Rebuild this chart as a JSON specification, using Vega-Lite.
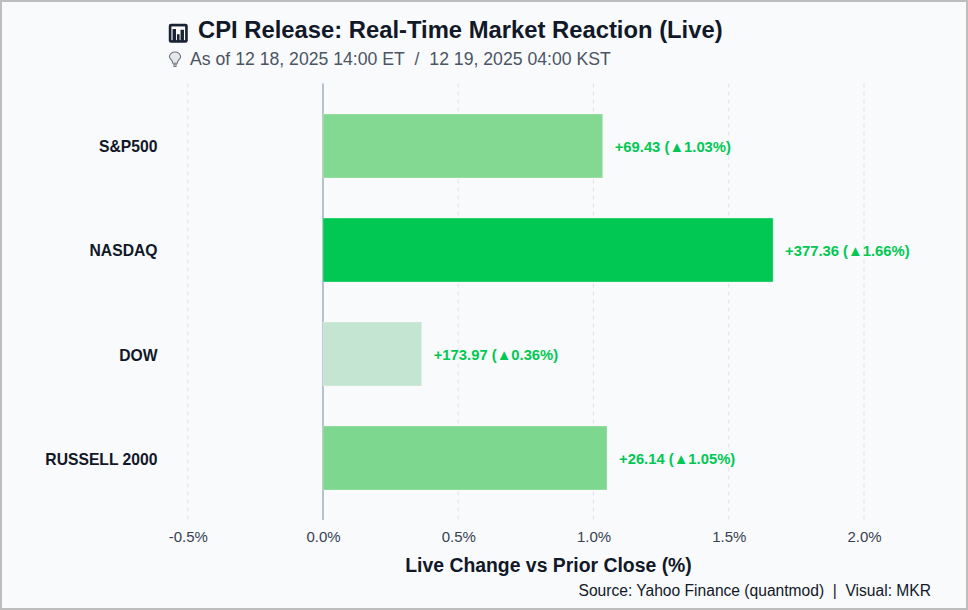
{
"$schema":"https://vega.github.io/schema/vega-lite/v6.json",
"width":968,"height":610,"autosize":"none","padding":0,
"background":"#f9fafc",
"title":{"text":"CPI Release: Real-Time Market Reaction (Live)","anchor":"start","frame":"group","dx":198,"dy":62,"offset":0,"baseline":"alphabetic","font":"Liberation Sans","fontSize":23.8,"fontWeight":"bold","color":"#111827"},
"config":{"view":{"stroke":"#bdbdbd","strokeWidth":4},"font":"Liberation Sans"},
"datasets":{
"bars":[
{"index_name":"S&P500","rank":1,"pct":1.034,"group":"S&P500","label":"+69.43 (▲1.03%)"},
{"index_name":"NASDAQ","rank":2,"pct":1.664,"group":"NASDAQ","label":"+377.36 (▲1.66%)"},
{"index_name":"DOW","rank":3,"pct":0.365,"group":"DOW","label":"+173.97 (▲0.36%)"},
{"index_name":"RUSSELL 2000","rank":4,"pct":1.05,"group":"RUSSELL 2000","label":"+26.14 (▲1.05%)"}
],
"grid":[{"tick":-0.5},{"tick":0.5},{"tick":1.0},{"tick":1.5},{"tick":2.0}]
},
"encoding":{
"x":{"type":"quantitative","scale":{"domain":[-1.194,2.3845],"nice":false,"zero":false},
 "axis":{"values":[-0.5,0,0.5,1,1.5,2],"labelExpr":"(datum.value<0?'-':'')+format(abs(datum.value),'.1f')+'%'","orient":"bottom","offset":-90,"grid":false,"ticks":false,"domain":false,"labelPadding":9,"labelFontSize":15,"labelColor":"#374151","labelFont":"Liberation Sans","title":"Live Change vs Prior Close (%)","titleFontSize":19.4,"titleFontWeight":"bold","titleColor":"#111827","titleFont":"Liberation Sans","titleX":548,"titleY":51,"titleAnchor":null,"titleBaseline":"alphabetic"}},
"y":{"type":"quantitative","scale":{"domain":[5.4615,-0.4038],"nice":false,"zero":false,"padding":0},
 "axis":{"values":[1,2,3,4],"labelExpr":"{'1':'S&P500','2':'NASDAQ','3':'DOW','4':'RUSSELL 2000'}[datum.value]","orient":"left","offset":-157,"grid":false,"ticks":false,"domain":false,"labelPadding":0,"labelOffset":1,"labelFontSize":15.7,"labelFontWeight":"bold","labelColor":"#111827","labelFont":"Liberation Sans","title":null}}
},
"layer":[
{"data":{"name":"grid"},"mark":{"type":"rule","color":"#dde2ec","strokeWidth":1,"strokeDash":[4,4]},
 "encoding":{"x":{"field":"tick","type":"quantitative"},"y":{"datum":0.399},"y2":{"datum":4.596}}},
{"data":{"values":[{"tick":0}]},"mark":{"type":"rule","color":"#a0aec0","strokeWidth":1.5},
 "encoding":{"x":{"field":"tick","type":"quantitative"},"y":{"datum":0.399},"y2":{"datum":4.596}}},
{"data":{"name":"bars"},"mark":{"type":"bar","orient":"horizontal","size":64,"stroke":"#ffffff","strokeWidth":0.5,"strokeOpacity":0.6},
 "encoding":{"x":{"field":"pct","type":"quantitative"},"x2":{"datum":0},"y":{"field":"rank","type":"quantitative"},
 "color":{"field":"group","type":"nominal","legend":null,"scale":{"domain":["S&P500","NASDAQ","DOW","RUSSELL 2000"],"range":["#83d892","#00c853","#c3e5d2","#7dd78e"]}}}},
{"data":{"name":"bars"},"mark":{"type":"text","align":"left","baseline":"middle","dx":12,"dy":2,"fontSize":14.8,"fontWeight":"bold","color":"#00c853","font":"Liberation Sans"},
 "encoding":{"x":{"field":"pct","type":"quantitative"},"y":{"field":"rank","type":"quantitative"},"text":{"field":"label"}}},
{"data":{"values":[{"t":"As of 12 18, 2025 14:00 ET\u00a0\u00a0/\u00a0\u00a012 19, 2025 04:00 KST"}]},"mark":{"type":"text","align":"left","baseline":"alphabetic","fontSize":17.65,"color":"#4b5563","font":"Liberation Sans"},
 "encoding":{"x":{"datum":-0.4915},"y":{"datum":0.221},"text":{"field":"t"}}},
{"data":{"values":[{"t":"Source: Yahoo Finance (quantmod)\u00a0\u00a0|\u00a0\u00a0Visual: MKR"}]},"mark":{"type":"text","align":"right","baseline":"alphabetic","fontSize":15.6,"color":"#111827","font":"Liberation Sans"},
 "encoding":{"x":{"datum":2.2477},"y":{"datum":5.327},"text":{"field":"t"}}},
{"data":{"values":[{"icon":"chart"}]},"mark":{"type":"point","filled":true,"color":"#1a2333","opacity":1,"size":1444,"shape":"M-0.5,-0.38 Q-0.5,-0.5 -0.38,-0.5 L0.38,-0.5 Q0.5,-0.5 0.5,-0.38 L0.5,0.38 Q0.5,0.5 0.38,0.5 L-0.38,0.5 Q-0.5,0.5 -0.5,0.38 Z"},
 "encoding":{"x":{"datum":-0.535},"y":{"datum":-0.0837}}},
{"data":{"values":[{"icon":"panel"}]},"mark":{"type":"point","filled":true,"color":"#ffffff","opacity":1,"size":1444,"shape":"M-0.36,-0.36 L0.36,-0.36 L0.36,0.36 L-0.36,0.36 Z"},
 "encoding":{"x":{"datum":-0.535},"y":{"datum":-0.0837}}},
{"data":{"values":[{"icon":"bars"}]},"mark":{"type":"point","filled":true,"color":"#1a2333","opacity":1,"size":1444,"shape":"M-0.3,-0.22 L-0.12,-0.22 L-0.12,0.4 L-0.3,0.4 Z M-0.07,0.05 L0.07,0.05 L0.07,0.4 L-0.07,0.4 Z M0.12,-0.18 L0.3,-0.18 L0.3,0.4 L0.12,0.4 Z"},
 "encoding":{"x":{"datum":-0.535},"y":{"datum":-0.0837}}},
{"data":{"values":[{"icon":"bulb"}]},"mark":{"type":"point","filled":false,"color":"#6b7280","fill":"#e5e7eb","fillOpacity":1,"opacity":1,"size":1024,"strokeWidth":1.1,"shape":"M-0.14,0.2 C-0.14,0 -0.35,-0.05 -0.35,-0.2 C-0.35,-0.38 -0.18,-0.5 0,-0.5 C0.18,-0.5 0.35,-0.38 0.35,-0.2 C0.35,-0.05 0.14,0 0.14,0.2 Z M-0.13,0.3 L0.13,0.3 M-0.1,0.4 L0.1,0.4"},
 "encoding":{"x":{"datum":-0.547},"y":{"datum":0.173}}}
]
}
